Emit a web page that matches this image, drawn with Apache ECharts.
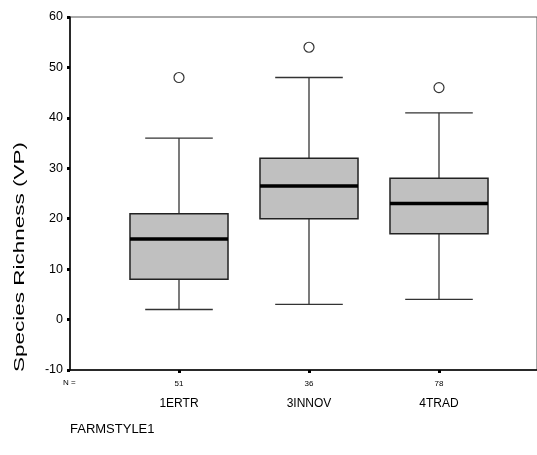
<!DOCTYPE html>
<html><head><meta charset="utf-8">
<script src="https://cdn.jsdelivr.net/npm/echarts@6/dist/echarts.min.js"></script>
<style>html,body{margin:0;padding:0;background:#fff;}#c{width:537px;height:455px;}</style>
</head><body><div id="c"></div>
<script>
var categories = ['1ERTR', '3INNOV', '4TRAD'];
var counts = [51, 36, 78];
var lowerWhisker = [2, 3, 4];
var q1 = [8, 20, 17];
var median = [16, 26.5, 23];
var q3 = [21, 32, 28];
var upperWhisker = [36, 48, 41];
var outliers = [[0, 48], [1, 54], [2, 46]];
var yTicks = [-10, 0, 10, 20, 30, 40, 50, 60];

var chart = echarts.init(document.getElementById('c'));
var boxData = categories.map(function (c, i) {
  return [i, lowerWhisker[i], q1[i], median[i], q3[i], upperWhisker[i]];
});
var FONT = 'Liberation Sans, Arial, sans-serif';
chart.setOption({
  animation: false,
  grid: [
    {left: 70, top: 17, width: 490, height: 353, show: true, borderColor: '#555', borderWidth: 1},
    {left: 114, top: 17, width: 390, height: 353}
  ],
  xAxis: [
    {gridIndex: 0, type: 'value', min: 0, max: 1, axisLine: {show: true, onZero: false, lineStyle: {color: '#000', width: 1.5}},
     axisTick: {show: false}, axisLabel: {show: false}, splitLine: {show: false}},
    {gridIndex: 1, type: 'category', data: categories, axisLine: {show: false, onZero: false},
     axisTick: {show: true, alignWithLabel: true, length: 3, lineStyle: {color: '#000', width: 3}},
     axisLabel: {margin: 6, fontFamily: FONT,
       formatter: function (v, i) { return '{n|' + counts[i] + '}\n{c|' + v + '}'; },
       rich: {n: {fontSize: 8, color: '#000', lineHeight: 16, fontFamily: FONT},
              c: {fontSize: 12, color: '#000', lineHeight: 23, fontFamily: FONT}}},
     splitLine: {show: false}}
  ],
  yAxis: [
    {gridIndex: 0, type: 'value', min: -10, max: 60, interval: 10,
     axisLine: {show: true, lineStyle: {color: '#000', width: 1.5}},
     axisTick: {show: true, length: 3, lineStyle: {color: '#000', width: 3}},
     axisLabel: {color: '#000', fontSize: 12.5, fontFamily: FONT, margin: 7,
       formatter: function (v) { return yTicks.indexOf(v) >= 0 ? String(v) : ''; }},
     splitLine: {show: false}},
    {gridIndex: 1, type: 'value', min: -10, max: 60, interval: 10, show: false}
  ],
  series: [
    {type: 'custom', xAxisIndex: 1, yAxisIndex: 1, data: boxData,
     renderItem: function (params, api) {
       var i = api.value(0);
       var bw = api.size([1, 0])[0];
       var pLow = api.coord([i, api.value(1)]);
       var pQ1 = api.coord([i, api.value(2)]);
       var pMed = api.coord([i, api.value(3)]);
       var pQ3 = api.coord([i, api.value(4)]);
       var pUp = api.coord([i, api.value(5)]);
       var x = pQ1[0];
       var boxW = bw * 0.754, capW = bw * 0.52;
       var wStyle = {stroke: '#333', lineWidth: 1.3};
       return {type: 'group', children: [
         {type: 'line', shape: {x1: x, y1: pQ3[1], x2: x, y2: pUp[1]}, style: wStyle},
         {type: 'line', shape: {x1: x, y1: pQ1[1], x2: x, y2: pLow[1]}, style: wStyle},
         {type: 'line', shape: {x1: x - capW / 2, y1: pUp[1], x2: x + capW / 2, y2: pUp[1]}, style: wStyle},
         {type: 'line', shape: {x1: x - capW / 2, y1: pLow[1], x2: x + capW / 2, y2: pLow[1]}, style: wStyle},
         {type: 'rect', shape: {x: x - boxW / 2, y: pQ3[1], width: boxW, height: pQ1[1] - pQ3[1]},
          style: {fill: '#c0c0c0', stroke: '#222', lineWidth: 1.5}},
         {type: 'line', shape: {x1: x - boxW / 2, y1: pMed[1], x2: x + boxW / 2, y2: pMed[1]},
          style: {stroke: '#000', lineWidth: 3.5}}
       ]};
     }},
    {type: 'scatter', xAxisIndex: 1, yAxisIndex: 1, data: outliers, symbol: 'circle', symbolSize: 10,
     itemStyle: {color: '#fff', borderColor: '#000', borderWidth: 1.2}}
  ],
  graphic: [
    {type: 'text', left: 63, top: 379, style: {text: 'N =', fontSize: 8, fill: '#000', fontFamily: FONT}},
    {type: 'text', left: 70, top: 423, style: {text: 'FARMSTYLE1', fontSize: 13, fill: '#000', fontFamily: FONT}},
    {type: 'text', x: 20, y: 257, rotation: Math.PI / 2, scaleX: 1.5,
     style: {text: 'Species Richness (VP)', fontSize: 15, fill: '#000', fontFamily: FONT, align: 'center', verticalAlign: 'middle'}}
  ]
});
</script></body></html>
